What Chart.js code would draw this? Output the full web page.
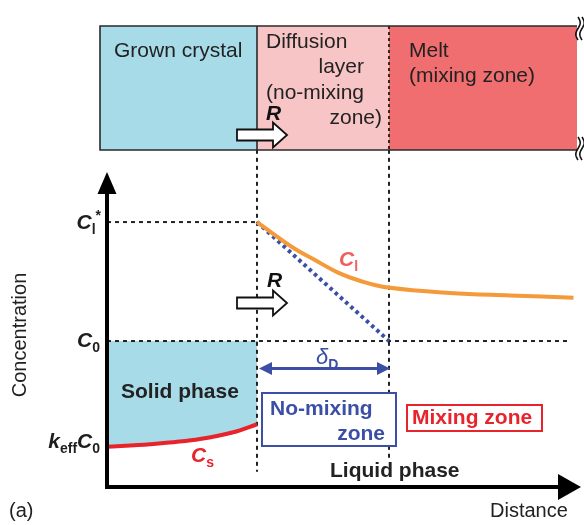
<!DOCTYPE html>
<html>
<head>
<meta charset="utf-8">
<script src="https://cdn.jsdelivr.net/npm/chart.js@4/dist/chart.umd.min.js"></script>
<style>
  html, body { margin: 0; padding: 0; background: #fff; }
  #wrap { width: 584px; height: 525px; }
</style>
</head>
<body>
<div id="wrap"><canvas id="c" width="584" height="525"></canvas></div>
<script>
// Distance along the growth direction (arbitrary units), concentration in units of C0.
const interfaceX = 5.0;          // solid / liquid interface
const deltaD = 4.4;              // thickness of the diffusion layer
const distanceMax = 15.8;
const concMax = 2.158;

// Reference levels marked on the concentration axis
const levelNames = ['Cl*', 'C0', 'keffC0'];
const levelValues = [1.815, 1.0, 0.276];

// Solute in the grown crystal, C_s
const solidX = [0, 1.43, 3.1, 4.21, 5.0];
const solidCs = [0.276, 0.293, 0.329, 0.375, 0.43];

// Solute in the liquid, C_l
const liquidX = [5.0, 5.6, 6.27, 6.93, 7.7, 8.5, 9.37, 11.43, 13.43, 15.55];
const liquidCl = [1.815, 1.725, 1.63, 1.555, 1.469, 1.408, 1.366, 1.329, 1.312, 1.297];

// Extent of the guide lines
const c0LineEnd = 15.43;
const guideTop = 2.31;
const interfaceGuideBottom = 0.105;
const layerGuideBottom = 0.2;

const pts = (xs, ys) => xs.map((x, i) => ({ x, y: ys[i] }));

const FONT = "'Liberation Sans', Arial, Helvetica, sans-serif";
const COL = {
  crystal: '#a6dbe7', layer: '#f8c5c7', melt: '#f06d70',
  orange: '#f49a3a', red: '#e8232b', blue: '#3b4fa6', salmon: '#ef5f5f', ink: '#1e1e1e'
};

const guide = (data, extra) => Object.assign({
  data, showLine: true, borderColor: '#222', borderWidth: 2, borderDash: [4, 4],
  pointRadius: 0, fill: false, clip: false, order: 5
}, extra || {});

const datasets = [
  { // crystal region between C_s and C0
    label: 'solid', data: pts(solidX, solidCs), showLine: true, borderWidth: 0,
    borderColor: 'rgba(0,0,0,0)', backgroundColor: COL.crystal,
    fill: { value: levelValues[1] }, pointRadius: 0, cubicInterpolationMode: 'monotone', order: 7
  },
  guide([{ x: 0, y: levelValues[0] }, { x: interfaceX, y: levelValues[0] }]),
  guide([{ x: 0, y: levelValues[1] }, { x: c0LineEnd, y: levelValues[1] }]),
  guide([{ x: interfaceX, y: guideTop }, { x: interfaceX, y: interfaceGuideBottom }]),
  guide([{ x: interfaceX + deltaD, y: guideTop }, { x: interfaceX + deltaD, y: layerGuideBottom }]),
  { // linear gradient across the diffusion layer
    label: 'gradient', data: [{ x: interfaceX, y: levelValues[0] }, { x: interfaceX + deltaD, y: levelValues[1] }],
    showLine: true, borderColor: COL.blue, borderWidth: 4, borderDash: [3.5, 3.5],
    pointRadius: 0, order: 3
  },
  {
    label: 'Cs', data: pts(solidX, solidCs), showLine: true, borderColor: COL.red,
    borderWidth: 4, pointRadius: 0, cubicInterpolationMode: 'monotone', order: 2
  },
  {
    label: 'Cl', data: pts(liquidX, liquidCl), showLine: true, borderColor: COL.orange,
    borderWidth: 4, pointRadius: 0, tension: 0.4, order: 1
  }
];

function richText(ctx, parts, x, baseline, align) {
  let w = 0;
  parts.forEach(p => { ctx.font = p.font; w += ctx.measureText(p.t).width; });
  let cx = align === 'right' ? x - w : x;
  parts.forEach(p => {
    ctx.font = p.font;
    ctx.fillStyle = p.color;
    ctx.textAlign = 'left';
    ctx.textBaseline = 'alphabetic';
    ctx.fillText(p.t, cx, baseline + (p.dy || 0));
    cx += ctx.measureText(p.t).width;
  });
}

function openArrow(ctx, x0, yc) {
  ctx.beginPath();
  ctx.moveTo(x0, yc - 5.5);
  ctx.lineTo(x0 + 36, yc - 5.5);
  ctx.lineTo(x0 + 36, yc - 12.5);
  ctx.lineTo(x0 + 50, yc);
  ctx.lineTo(x0 + 36, yc + 12.5);
  ctx.lineTo(x0 + 36, yc + 5.5);
  ctx.lineTo(x0, yc + 5.5);
  ctx.closePath();
  ctx.fillStyle = '#fff';
  ctx.fill();
  ctx.lineWidth = 1.8;
  ctx.strokeStyle = '#111';
  ctx.lineJoin = 'miter';
  ctx.stroke();
}

function breakMark(ctx, x, y0, len) {
  ctx.lineWidth = 1.6;
  ctx.strokeStyle = '#111';
  [0, 4].forEach(off => {
    ctx.beginPath();
    for (let i = 0; i <= 20; i++) {
      const t = i / 20;
      const px = x + off + 2.2 * Math.sin(t * Math.PI * 2);
      const py = y0 + t * len;
      if (i === 0) ctx.moveTo(px, py); else ctx.lineTo(px, py);
    }
    ctx.stroke();
  });
}

const decorations = {
  id: 'decorations',
  afterDatasetsDraw(chart) {
    const { ctx, chartArea: ca, scales: { x, y } } = chart;
    const xI = x.getPixelForValue(interfaceX);
    const xD = x.getPixelForValue(interfaceX + deltaD);
    ctx.save();

    // ---- schematic of the crucible contents ----
    const bTop = 26, bBot = 150, bLeft = 100, bRight = 577;
    ctx.fillStyle = COL.crystal; ctx.fillRect(bLeft, bTop, xI - bLeft, bBot - bTop);
    ctx.fillStyle = COL.layer; ctx.fillRect(xI, bTop, xD - xI, bBot - bTop);
    ctx.fillStyle = COL.melt; ctx.fillRect(xD, bTop, bRight - xD, bBot - bTop);
    ctx.strokeStyle = '#2a2a2a'; ctx.lineWidth = 1.6; ctx.setLineDash([]);
    ctx.beginPath();
    ctx.moveTo(bRight, bTop); ctx.lineTo(bLeft, bTop); ctx.lineTo(bLeft, bBot); ctx.lineTo(bRight, bBot);
    ctx.moveTo(xI, bTop); ctx.lineTo(xI, bBot);
    ctx.stroke();
    ctx.setLineDash([3, 3]); ctx.lineWidth = 2;
    ctx.beginPath(); ctx.moveTo(xD, bTop); ctx.lineTo(xD, bBot); ctx.stroke();
    ctx.setLineDash([]);
    breakMark(ctx, 578, 17, 23);
    breakMark(ctx, 578, 137, 23);

    const reg = '21px ' + FONT;
    ctx.fillStyle = '#222'; ctx.font = reg; ctx.textBaseline = 'alphabetic';
    ctx.textAlign = 'left';
    ctx.fillText('Grown crystal', 114, 57);
    ctx.fillText('Diffusion', 266, 48);
    ctx.fillText('(no-mixing', 266, 99);
    ctx.fillText('Melt', 409, 57);
    ctx.fillText('(mixing zone)', 409, 82);
    ctx.textAlign = 'right';
    ctx.fillText('layer', 364, 73);
    ctx.fillText('zone)', 382, 124);

    openArrow(ctx, xI - 20, 135);
    richText(ctx, [{ t: 'R', font: 'italic bold 21px ' + FONT, color: '#111' }], 266, 120);

    // ---- axes ----
    ctx.fillStyle = '#000'; ctx.strokeStyle = '#000';
    ctx.fillRect(ca.left - 2, ca.top + 20, 4, ca.bottom - ca.top - 18);
    ctx.beginPath();
    ctx.moveTo(ca.left, ca.top); ctx.lineTo(ca.left + 9.5, ca.top + 22); ctx.lineTo(ca.left - 9.5, ca.top + 22);
    ctx.closePath(); ctx.fill();
    ctx.fillRect(ca.left - 2, ca.bottom - 2, ca.right - ca.left - 20, 4);
    ctx.beginPath();
    ctx.moveTo(ca.right, ca.bottom); ctx.lineTo(ca.right - 23, ca.bottom - 13); ctx.lineTo(ca.right - 23, ca.bottom + 13);
    ctx.closePath(); ctx.fill();

    // concentration level labels
    const bi = 'italic bold 21px ' + FONT, sub = 'bold 14px ' + FONT;
    const yl = levelValues.map(v => y.getPixelForValue(v));
    richText(ctx, [
      { t: 'C', font: bi, color: COL.ink },
      { t: 'l', font: sub, color: COL.ink, dy: 5 },
      { t: '*', font: sub, color: COL.ink, dy: -9 }
    ], 101, yl[0] + 7, 'right');
    richText(ctx, [
      { t: 'C', font: bi, color: COL.ink },
      { t: '0', font: sub, color: COL.ink, dy: 5 }
    ], 100, yl[1] + 6, 'right');
    richText(ctx, [
      { t: 'k', font: bi, color: COL.ink },
      { t: 'eff', font: sub, color: COL.ink, dy: 5 },
      { t: 'C', font: bi, color: COL.ink },
      { t: '0', font: sub, color: COL.ink, dy: 5 }
    ], 100, yl[2] + 1, 'right');

    ctx.save();
    ctx.translate(26, 335); ctx.rotate(-Math.PI / 2);
    ctx.font = '20px ' + FONT; ctx.fillStyle = '#222';
    ctx.textAlign = 'center'; ctx.textBaseline = 'alphabetic';
    ctx.fillText('Concentration', 0, 0);
    ctx.restore();

    ctx.font = '20px ' + FONT; ctx.fillStyle = '#222'; ctx.textAlign = 'left';
    ctx.fillText('Distance', 490, 517);
    ctx.fillText('(a)', 9, 517);

    // ---- annotations inside the plot ----
    openArrow(ctx, xI - 20, 303);
    richText(ctx, [{ t: 'R', font: 'italic bold 21px ' + FONT, color: '#111' }], 267, 287);

    richText(ctx, [
      { t: 'C', font: bi, color: COL.salmon },
      { t: 'l', font: sub, color: COL.salmon, dy: 5 }
    ], 339, 266);
    richText(ctx, [
      { t: 'C', font: bi, color: COL.red },
      { t: 's', font: sub, color: COL.red, dy: 5 }
    ], 191, 462);

    ctx.font = 'bold 21px ' + FONT; ctx.fillStyle = '#222'; ctx.textAlign = 'left';
    ctx.fillText('Solid phase', 121, 398);
    ctx.fillText('Liquid phase', 330, 477);

    // diffusion layer thickness
    const yd = 368.5;
    ctx.strokeStyle = COL.blue; ctx.fillStyle = COL.blue; ctx.lineWidth = 3;
    ctx.beginPath(); ctx.moveTo(xI + 10, yd); ctx.lineTo(xD - 10, yd); ctx.stroke();
    ctx.beginPath(); ctx.moveTo(xI + 2, yd); ctx.lineTo(xI + 15, yd - 6.5); ctx.lineTo(xI + 15, yd + 6.5); ctx.closePath(); ctx.fill();
    ctx.beginPath(); ctx.moveTo(xD + 1, yd); ctx.lineTo(xD - 12, yd - 6.5); ctx.lineTo(xD - 12, yd + 6.5); ctx.closePath(); ctx.fill();
    richText(ctx, [
      { t: '\u03b4', font: 'italic 22px ' + FONT, color: COL.blue },
      { t: 'D', font: sub, color: COL.blue, dy: 5 }
    ], 316, 364);

    // zone boxes
    ctx.fillStyle = '#fff'; ctx.fillRect(262, 393, 134, 53);
    ctx.strokeStyle = COL.blue; ctx.lineWidth = 2; ctx.strokeRect(262, 393, 134, 53);
    ctx.font = 'bold 21px ' + FONT; ctx.fillStyle = COL.blue;
    ctx.textAlign = 'left'; ctx.fillText('No-mixing', 270, 415);
    ctx.textAlign = 'right'; ctx.fillText('zone', 385, 440);

    ctx.fillStyle = '#fff'; ctx.fillRect(407, 405, 135, 26);
    ctx.strokeStyle = COL.red; ctx.lineWidth = 2; ctx.strokeRect(407, 405, 135, 26);
    ctx.fillStyle = COL.red; ctx.textAlign = 'left';
    ctx.fillText('Mixing zone', 412, 424);

    ctx.restore();
  }
};

const chart = new Chart(document.getElementById('c'), {
  type: 'scatter',
  data: { datasets },
  options: {
    responsive: false,
    animation: false,
    layout: { padding: { left: 107, right: 3, top: 172, bottom: 38 } },
    scales: {
      x: { type: 'linear', min: 0, max: distanceMax, display: false },
      y: { type: 'linear', min: 0, max: concMax, display: false }
    },
    plugins: { legend: { display: false }, tooltip: { enabled: false } },
    elements: { point: { radius: 0 } }
  },
  plugins: [decorations]
});
</script>
</body>
</html>
